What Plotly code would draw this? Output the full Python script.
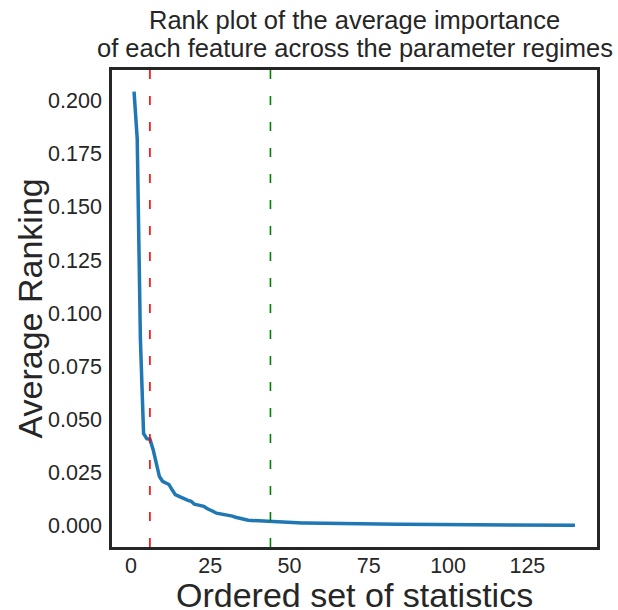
import plotly.graph_objects as go

# ---- data ----
ranks = list(range(1, 141))
avg_importance = [
    0.2042, 0.1820, 0.0880, 0.0435, 0.0410, 0.0408, 0.0360, 0.0290, 0.0232, 0.0210,
    0.0203, 0.0195, 0.0170, 0.0147, 0.0140, 0.0133, 0.0125, 0.0120, 0.0116, 0.0102,
    0.0099, 0.0096, 0.0092, 0.0082, 0.0077, 0.0068, 0.0060, 0.0058, 0.0055, 0.0052,
    0.0050, 0.0046, 0.0041, 0.0037, 0.0031, 0.0028, 0.0027, 0.0026, 0.0025, 0.0024,
    0.0023, 0.0022, 0.0021, 0.0020, 0.0019, 0.0018, 0.0017, 0.0016, 0.0016, 0.0015,
    0.00148, 0.00145, 0.00142, 0.00139, 0.00136, 0.00133, 0.00130, 0.00127, 0.00124, 0.00121,
    0.00119, 0.00117, 0.00115, 0.00113, 0.00111, 0.00109, 0.00107, 0.00105, 0.00103, 0.00101,
    0.00099, 0.00097, 0.00095, 0.00093, 0.00091, 0.00089, 0.00088, 0.00087, 0.00086, 0.00085,
    0.00084, 0.00083, 0.00082, 0.00081, 0.00080, 0.00079, 0.00077, 0.00076, 0.00075, 0.00074,
    0.00072, 0.00071, 0.00070, 0.00068, 0.00067, 0.00066, 0.00064, 0.00063, 0.00062, 0.00060,
    0.00059, 0.00058, 0.00057, 0.00056, 0.00055, 0.00054, 0.00053, 0.00052, 0.00051, 0.00050,
    0.00049, 0.00048, 0.00047, 0.00046, 0.00046, 0.00045, 0.00044, 0.00043, 0.00043, 0.00042,
    0.00041, 0.00040, 0.00040, 0.00039, 0.00038, 0.00037, 0.00037, 0.00036, 0.00035, 0.00035,
    0.00034, 0.00033, 0.00033, 0.00032, 0.00032, 0.00031, 0.00031, 0.00030, 0.00030, 0.00029,
]
cutoff_red = 6
cutoff_green = 44
x_ticks = [0, 25, 50, 75, 100, 125]
y_ticks = [0.000, 0.025, 0.050, 0.075, 0.100, 0.125, 0.150, 0.175, 0.200]
y_ticklabels = ["%.3f" % v for v in y_ticks]
title_lines = ["Rank plot of the average importance",
               "of each feature across the parameter regimes"]
x_title = "Ordered set of statistics"
y_title = "Average Ranking"

FONT = "Liberation Sans, Arial, sans-serif"
TXT = "#262626"

W, H = 618, 610
ML, MR, MT, MB = 112, 21, 70, 63
plot_h = H - MT - MB
plot_w = W - ML - MR

fig = go.Figure()
fig.add_trace(go.Scatter(
    x=ranks, y=avg_importance, mode="lines",
    line=dict(color="#1f77b4", width=3.5),
    showlegend=False, hoverinfo="skip",
))

for xv, col in [(cutoff_red, "red"), (cutoff_green, "green")]:
    fig.add_shape(type="line", xref="x", yref="paper", x0=xv, x1=xv, y0=0, y1=1,
                  line=dict(color=col, width=1.6, dash="9px,17px"), layer="above")

# title as two annotations for precise line spacing
for txt, off in zip(title_lines, [50, 22]):
    fig.add_annotation(text=txt, xref="paper", yref="paper", x=0.5, y=1 + off / plot_h,
                       xanchor="center", yanchor="middle", showarrow=False,
                       font=dict(size=25.5, family=FONT, color=TXT))

# axis titles as annotations
fig.add_annotation(text=x_title, xref="paper", yref="paper", x=0.5, y=-48 / plot_h,
                   xanchor="center", yanchor="middle", showarrow=False,
                   font=dict(size=34, family=FONT, color=TXT))
fig.add_annotation(text=y_title, xref="paper", yref="paper", x=-83 / plot_w, y=0.5,
                   xanchor="center", yanchor="middle", showarrow=False, textangle=-90,
                   font=dict(size=34, family=FONT, color=TXT))

xr = [1 - 0.05 * 139, 140 + 0.05 * 139]
ymax = max(avg_importance)
ymin = min(avg_importance)
span = ymax - ymin
yr = [ymin - 0.05 * span, ymax + 0.05 * span]

fig.update_layout(
    width=W, height=H,
    margin=dict(l=ML, r=MR, t=MT, b=MB, autoexpand=False),
    paper_bgcolor="white", plot_bgcolor="white",
    font=dict(family=FONT, color=TXT),
    xaxis=dict(
        range=xr, tickvals=x_ticks, ticktext=[str(v) for v in x_ticks],
        showgrid=False, zeroline=False, ticks="", automargin=False,
        showline=True, mirror=True, linecolor=TXT, linewidth=2.6,
        tickfont=dict(size=21.5, family=FONT, color=TXT),
        ticklabelstandoff=-3,
    ),
    yaxis=dict(
        range=yr, tickvals=y_ticks, ticktext=y_ticklabels,
        showgrid=False, zeroline=False, ticks="", automargin=False,
        showline=True, mirror=True, linecolor=TXT, linewidth=2.6,
        tickfont=dict(size=21.5, family=FONT, color=TXT),
        ticklabelstandoff=3,
    ),
)

fig.write_html("out.html", config={"displayModeBar": False},
               post_script="document.body.style.margin='0px';document.body.style.overflow='hidden';")
